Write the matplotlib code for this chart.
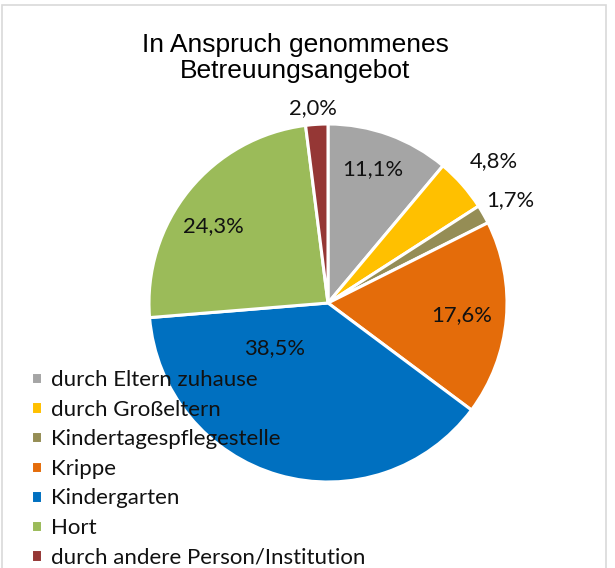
import numpy as np
import matplotlib
matplotlib.use("Agg")
import matplotlib.pyplot as plt
from matplotlib.patches import Rectangle

# data
categories = ["durch Eltern zuhause", "durch Großeltern", "Kindertagespflegestelle",
              "Krippe", "Kindergarten", "Hort", "durch andere Person/Institution"]
shares = [11.1, 4.8, 1.7, 17.6, 38.5, 24.3, 2.0]
colors = ["#A5A5A5", "#FFC000", "#958D55", "#E46C0A", "#0070C0", "#9BBB59", "#953735"]

# label placement (radius fraction, angle shift in degrees)
label_dist = [0.79, 1.22, 1.17, 0.75, 0.39, 0.77, 1.09]
label_shift = [1.5, -0.7, -0.2, -0.2, -33.5, 5.0, 0.8]

W, H = 615, 568
fig = plt.figure(figsize=(W / 100, H / 100), dpi=100)

# chart frame
fig.patches.append(Rectangle((2 / W, -0.05), 604 / W, 1.05 - 5 / H, transform=fig.transFigure,
                             fill=False, edgecolor="#D9D9D9", linewidth=1.2))

cx, cy, r = 328, 303, 179
ax = fig.add_axes([(cx - r) / W, (H - cy - r) / H, 2 * r / W, 2 * r / H])
wedges, _ = ax.pie(shares, colors=colors, startangle=90, counterclock=False,
                   radius=1, wedgeprops=dict(edgecolor="white", linewidth=2.2))
ax.set_xlim(-1, 1)
ax.set_ylim(-1, 1)
ax.set_aspect("equal")
ax.axis("off")

for w, val, d, s in zip(wedges, shares, label_dist, label_shift):
    ang = np.deg2rad((w.theta1 + w.theta2) / 2 + s)
    ax.text(d * np.cos(ang), d * np.sin(ang), f"{val:.1f}%".replace(".", ","),
            ha="center", va="center", fontsize=15.8, family="Lato", color="#111111")

fig.text(295 / W, 1 - 58 / H, "In Anspruch genommenes\nBetreuungsangebot", ha="center", va="center",
         fontsize=19, family="Liberation Sans", linespacing=1.12)

fig.legend(wedges, categories, loc="upper left", bbox_to_anchor=(31 / W, 1 - 370 / H),
           frameon=False, prop=dict(family="Lato", size=16), labelcolor="#111111",
           handlelength=0.48, handleheight=0.48,
           handletextpad=0.44, labelspacing=0.43, borderpad=0, borderaxespad=0)

fig.savefig("out.png", dpi=100)
